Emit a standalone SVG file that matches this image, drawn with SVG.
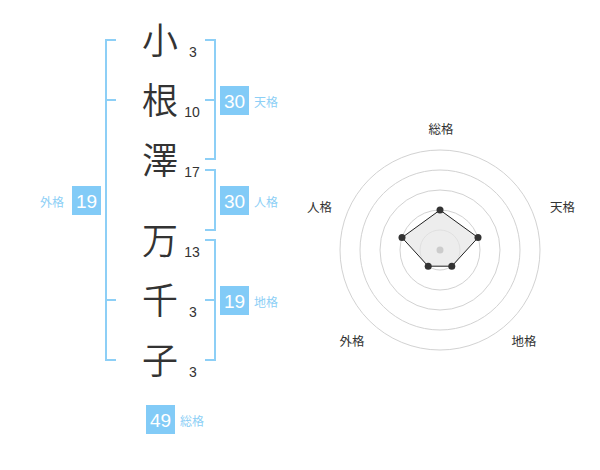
<svg xmlns="http://www.w3.org/2000/svg" width="600" height="470" viewBox="0 0 600 470">
<style>
.kanji{font-family:"Noto Sans CJK JP","Noto Sans CJK SC",sans-serif;font-size:36px;font-weight:350;fill:#333;text-anchor:middle}
.num{font-family:"Liberation Sans",Arial,sans-serif;font-size:14px;fill:#333;text-anchor:middle}
.br{fill:none;stroke:#8dcff6;stroke-width:2}
.box{fill:#82cbf7}
.bnum{font-family:"Liberation Sans",Arial,sans-serif;font-size:19px;fill:#fff;text-anchor:middle}
.blab{font-family:"Noto Sans CJK JP","Noto Sans CJK SC",sans-serif;font-size:12px;fill:#8dcff6}
.rlab{font-family:"Noto Sans CJK JP","Noto Sans CJK SC",sans-serif;font-size:12.5px;fill:#333;text-anchor:middle}
.ring{fill:none;stroke:#d2d2d2;stroke-width:1}
.pt{fill:#333}
</style>
<rect width="600" height="470" fill="#fff"/>
<g id="connectors">
<path class="br" d="M116,40 H106 V360 H116 M106,100 H116 M106,300 H116"/>
<path class="br" d="M205,40 H215 V159 H205 M215,100 H205"/>
<path class="br" d="M205,170 H215 V230 H205"/>
<path class="br" d="M205,240 H215 V360 H205 M215,300 H205"/>
</g>
<g id="chars">
<text class="kanji" x="160" y="54">小</text>
<text class="num" x="193" y="57">3</text>
<text class="kanji" x="160" y="114">根</text>
<text class="num" x="192" y="117">10</text>
<text class="kanji" x="160" y="174">澤</text>
<text class="num" x="192" y="177">17</text>
<text class="kanji" x="160" y="254">万</text>
<text class="num" x="192" y="257">13</text>
<text class="kanji" x="160" y="314">千</text>
<text class="num" x="193" y="317">3</text>
<text class="kanji" x="160" y="374">子</text>
<text class="num" x="193" y="377">3</text>
</g>
<g id="tenkaku">
<rect class="box" x="220" y="86" width="29" height="29"/>
<text class="bnum" x="234.5" y="107.5">30</text>
<text class="blab" x="254" y="107">天格</text>
</g>
<g id="jinkaku">
<rect class="box" x="220" y="186" width="29" height="29"/>
<text class="bnum" x="234.5" y="207.5">30</text>
<text class="blab" x="254" y="207">人格</text>
</g>
<g id="chikaku">
<rect class="box" x="220" y="286" width="29" height="29"/>
<text class="bnum" x="234.5" y="307.5">19</text>
<text class="blab" x="254" y="307">地格</text>
</g>
<g id="gaikaku">
<rect class="box" x="72" y="186" width="29" height="29"/>
<text class="bnum" x="86.5" y="207.5">19</text>
<text class="blab" x="40" y="207">外格</text>
</g>
<g id="soukaku">
<rect class="box" x="146" y="405" width="29" height="29"/>
<text class="bnum" x="160.5" y="426.5">49</text>
<text class="blab" x="180" y="426">総格</text>
</g>
<g id="radar">
<circle class="ring" cx="440" cy="250" r="20"/>
<circle class="ring" cx="440" cy="250" r="40"/>
<circle class="ring" cx="440" cy="250" r="60"/>
<circle class="ring" cx="440" cy="250" r="80"/>
<circle class="ring" cx="440" cy="250" r="100"/>
<polygon points="440,210 478,237.6 451.8,266.2 428.2,266.2 402,237.6" fill="#e6e6e6" fill-opacity="0.7" stroke="#222" stroke-width="1"/>
<circle cx="440" cy="250" r="3.5" fill="#ccc"/>
<circle class="pt" cx="440" cy="210" r="3.5"/>
<circle class="pt" cx="478" cy="237.6" r="3.5"/>
<circle class="pt" cx="451.8" cy="266.2" r="3.5"/>
<circle class="pt" cx="428.2" cy="266.2" r="3.5"/>
<circle class="pt" cx="402" cy="237.6" r="3.5"/>
<text class="rlab" x="441" y="134">総格</text>
<text class="rlab" x="562.5" y="212">天格</text>
<text class="rlab" x="524" y="346">地格</text>
<text class="rlab" x="352" y="346">外格</text>
<text class="rlab" x="319.5" y="212">人格</text>
</g>
</svg>
